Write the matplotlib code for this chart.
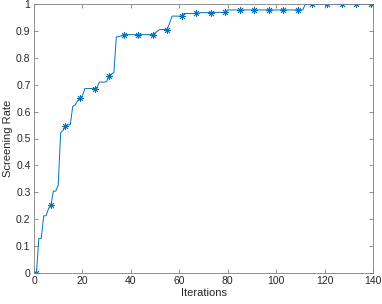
import matplotlib
matplotlib.use("Agg")
import matplotlib.pyplot as plt
import numpy as np

iterations = list(range(1, 141))
# screening rate at each iteration
rate_1_20 = [0.000, 0.127, 0.127, 0.212, 0.212, 0.239, 0.251, 0.304, 0.304, 0.326,
             0.522, 0.530, 0.546, 0.550, 0.552, 0.620, 0.625, 0.640, 0.651, 0.658]
rate_21_40 = [0.686, 0.686, 0.686, 0.686, 0.686, 0.690, 0.710, 0.710, 0.710, 0.712,
              0.733, 0.740, 0.746, 0.878, 0.880, 0.882, 0.887, 0.887, 0.887, 0.887]
rate_41_60 = [0.887, 0.887, 0.887, 0.887, 0.887, 0.887, 0.887, 0.887, 0.887, 0.893,
              0.900, 0.906, 0.906, 0.906, 0.906, 0.930, 0.956, 0.956, 0.956, 0.956]
rate_61_80 = [0.956, 0.966, 0.966, 0.966, 0.966, 0.966, 0.966, 0.967, 0.969, 0.969,
              0.969, 0.969, 0.969, 0.970, 0.970, 0.970, 0.970, 0.970, 0.970, 0.979]
rate_81_111 = [0.979] * 31
rate_112_140 = [1.000] * 29
rate = rate_1_20 + rate_21_40 + rate_41_60 + rate_61_80 + rate_81_111 + rate_112_140

x_ticks = [0, 20, 40, 60, 80, 100, 120, 140]
y_ticks = [0, 0.1, 0.2, 0.3, 0.4, 0.5, 0.6, 0.7, 0.8, 0.9, 1]
y_tick_labels = ["0", "0.1", "0.2", "0.3", "0.4", "0.5", "0.6", "0.7", "0.8", "0.9", "1"]

plt.rcParams['font.family'] = ['Liberation Sans', 'DejaVu Sans']

fig = plt.figure(figsize=(3.82, 3.04), dpi=100)
ax = fig.add_axes([34 / 382, 1 - 272.7 / 304, (373 - 34) / 382, (272.7 - 4.3) / 304])

blue = '#0072BD'
ax.plot(iterations, rate, color=blue, linewidth=0.7,
        marker=(8, 2, 0), markersize=5, markeredgewidth=0.6, markevery=6)

ax.set_xlim(0, 140)
ax.set_ylim(0, 1)
ax.set_xticks(x_ticks)
ax.set_yticks(y_ticks)
ax.set_yticklabels(y_tick_labels)

axis_col = '#262626'
for s in ax.spines.values():
    s.set_color('#808080')
    s.set_linewidth(0.6)
ax.tick_params(direction='in', top=True, right=True, length=3, width=0.6,
               colors='#808080', labelcolor=axis_col, labelsize=7.5, pad=2.5)
ax.set_xlabel('Iterations', fontsize=8, color=axis_col, labelpad=1)
ax.set_ylabel('Screening Rate', fontsize=8, color=axis_col, labelpad=2)

fig.savefig('out.png', dpi=100)
